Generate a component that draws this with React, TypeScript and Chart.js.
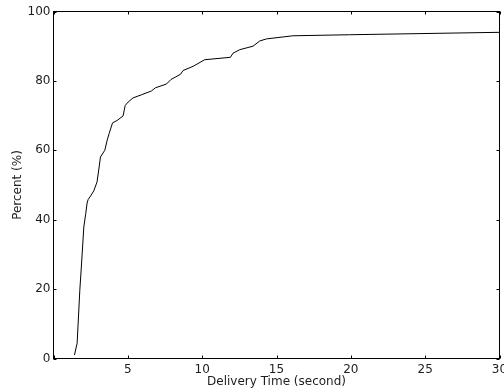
import React, { useEffect, useRef } from "react";
import { Chart, registerables } from "chart.js";

Chart.register(...registerables);

const deliveryTime: number[] = [
  1.41, 1.59, 1.77, 1.86, 2.04, 2.17, 2.26, 2.33, 2.49, 2.71, 2.93, 3.07, 3.16,
  3.45, 3.61, 3.74, 3.97, 4.28, 4.68, 4.82, 5.02, 5.35, 5.92, 6.59, 6.85, 7.6,
  7.9, 8.54, 8.72, 9.39, 10.17, 11.9, 12.08, 12.53, 13.42, 13.87, 14.32, 16.1,
  19.9, 30,
];
const percent: number[] = [
  1.0, 4.4, 19.7, 25.5, 37.9, 41.8, 44.8, 45.8, 46.8, 48.3, 50.9, 55.2, 58.1,
  60.0, 62.9, 64.8, 67.9, 68.6, 69.9, 72.9, 73.9, 75.1, 76.0, 77.1, 78.0, 79.1,
  80.4, 81.9, 83.0, 84.2, 86.1, 86.8, 88.0, 89.0, 90.0, 91.5, 92.1, 93.0, 93.3,
  94.0,
];
const xTitle = "Delivery Time (second)";
const yTitle = "Percent (%)";

const FONT = "'DejaVu Sans', Verdana, sans-serif";
const TEXT = "#1e1e1e";

const framePlugin = {
  id: "frame",
  afterDatasetsDraw(chart: any) {
    const { ctx, chartArea, scales } = chart;
    const { left, right, top, bottom } = chartArea;
    const xs = scales.x;
    const ys = scales.y;
    const L = 3;
    ctx.save();
    ctx.strokeStyle = "#000";
    ctx.lineWidth = 1;
    ctx.strokeRect(left, top, right - left, bottom - top);
    ctx.beginPath();
    xs.ticks.forEach((t: any) => {
      const px = Math.round(xs.getPixelForValue(t.value)) + 0.5;
      ctx.moveTo(px, bottom);
      ctx.lineTo(px, bottom - L);
      ctx.moveTo(px, top);
      ctx.lineTo(px, top + L);
    });
    ys.ticks.forEach((t: any) => {
      const py = Math.round(ys.getPixelForValue(t.value)) + 0.5;
      ctx.moveTo(left, py);
      ctx.lineTo(left + L, py);
      ctx.moveTo(right, py);
      ctx.lineTo(right - L, py);
    });
    ctx.stroke();
    ctx.restore();
  },
};

export default function App() {
  const ref = useRef<HTMLCanvasElement | null>(null);

  useEffect(() => {
    if (!ref.current) return;
    const points = deliveryTime.map((x, i) => ({ x, y: percent[i] }));
    const chart = new Chart(ref.current, {
      type: "line",
      data: {
        datasets: [
          {
            data: points,
            borderColor: "#000",
            borderWidth: 1,
            pointRadius: 0,
            tension: 0,
            fill: false,
          },
        ],
      },
      options: {
        responsive: false,
        animation: false,
        layout: { padding: { top: 11.5, right: 4.5, left: 0, bottom: 0 } },
        plugins: { legend: { display: false }, tooltip: { enabled: false } },
        scales: {
          x: {
            type: "linear",
            min: 0,
            max: 30,
            grid: { display: false, drawTicks: false },
            border: { display: false },
            ticks: {
              stepSize: 5,
              autoSkip: false,
              maxRotation: 0,
              padding: 4,
              color: TEXT,
              font: { family: FONT, size: 12 },
              callback: (v: any) => (v === 0 ? "" : String(v)),
            },
            title: {
              display: true,
              text: xTitle,
              color: TEXT,
              font: { family: FONT, size: 12 },
              padding: { top: 0, bottom: 2 },
            },
            afterFit: (scale: any) => {
              scale.height = 32.5;
              scale.paddingLeft = 0;
              scale.paddingRight = 0;
            },
          },
          y: {
            min: 0,
            max: 100,
            grid: { display: false, drawTicks: false },
            border: { display: false },
            ticks: {
              stepSize: 20,
              padding: 3,
              color: TEXT,
              font: { family: FONT, size: 12 },
            },
            title: {
              display: true,
              text: yTitle,
              color: TEXT,
              font: { family: FONT, size: 12 },
              padding: { top: 11, bottom: 0 },
            },
            afterFit: (scale: any) => {
              scale.width = 53.5;
              scale.paddingTop = 0;
              scale.paddingBottom = 0;
            },
          },
        },
      },
      plugins: [framePlugin],
    });
    return () => chart.destroy();
  }, []);

  return (
    <div style={{ position: "absolute", left: 0, top: 0, width: 504, height: 391, background: "#fff" }}>
      <canvas ref={ref} width={504} height={391} />
    </div>
  );
}
